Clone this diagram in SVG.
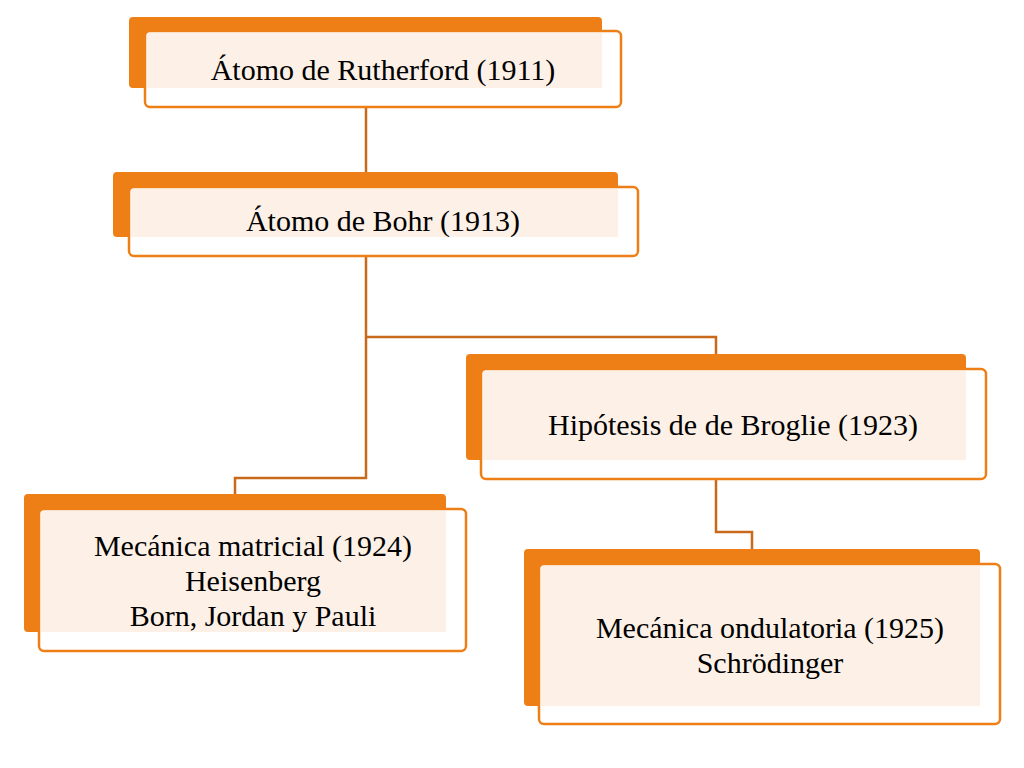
<svg xmlns="http://www.w3.org/2000/svg" width="1024" height="768" viewBox="0 0 1024 768">
<style>
.b{fill:#ee7f16}
.f{fill:#fff;stroke:#ee7f16;stroke-width:2.5}
.c{fill:#fdf1e7}
text{font-family:"Liberation Serif",serif;font-size:30px;fill:#000;text-anchor:middle}
.l{fill:none;stroke:#c8691c;stroke-width:2.5}
</style>
<rect width="1024" height="768" fill="#fff"/>
<g id="connectors">
<path class="l" d="M366,92V172"/>
<path class="l" d="M366,240V478H235V494"/>
<path class="l" d="M366,337H716V354"/>
<path class="l" d="M716,462V532H752V549"/>
</g>
<g id="n1">
<rect class="b" x="129" y="17" width="473" height="71" rx="4"/>
<rect class="f" x="145" y="31" width="476" height="76" rx="5"/>
<rect class="c" x="147" y="33" width="455" height="55"/>
<text x="383" y="80">Átomo de Rutherford (1911)</text>
</g>
<g id="n2">
<rect class="b" x="113" y="172" width="505" height="65" rx="4"/>
<rect class="f" x="129" y="187" width="509" height="69" rx="5"/>
<rect class="c" x="131" y="189" width="487" height="48"/>
<text x="383" y="231">Átomo de Bohr (1913)</text>
</g>
<g id="n3">
<rect class="b" x="466" y="354" width="500" height="106" rx="4"/>
<rect class="f" x="481" y="369" width="505" height="110" rx="5"/>
<rect class="c" x="483" y="371" width="483" height="89"/>
<text x="733" y="435">Hipótesis de de Broglie (1923)</text>
</g>
<g id="n4">
<rect class="b" x="24" y="494" width="422" height="138" rx="4"/>
<rect class="f" x="39" y="509" width="427" height="142" rx="5"/>
<rect class="c" x="41" y="511" width="405" height="121"/>
<text x="253" y="556">Mecánica matricial (1924)</text>
<text x="253" y="591">Heisenberg</text>
<text x="253" y="626">Born, Jordan y Pauli</text>
</g>
<g id="n5">
<rect class="b" x="524" y="549" width="456" height="157" rx="4"/>
<rect class="f" x="539" y="564" width="461" height="160" rx="5"/>
<rect class="c" x="541" y="566" width="439" height="140"/>
<text x="770" y="638">Mecánica ondulatoria (1925)</text>
<text x="770" y="673">Schrödinger</text>
</g>
</svg>
